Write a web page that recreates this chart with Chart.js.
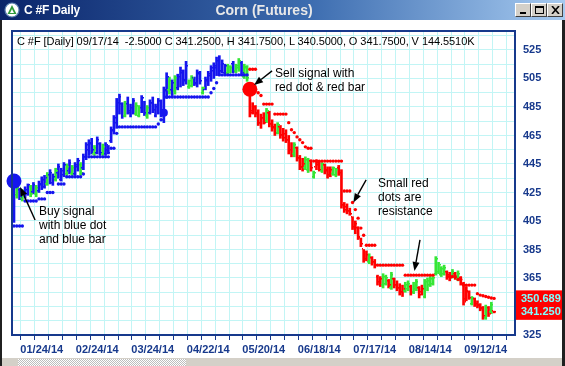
<!DOCTYPE html>
<html><head><meta charset="utf-8">
<script src="https://cdn.jsdelivr.net/npm/chart.js@4.4.1/dist/chart.umd.min.js"></script>
<style>
html,body{margin:0;padding:0;}
body{width:565px;height:366px;overflow:hidden;position:relative;background:#fff;font-family:Arial,"Liberation Sans",sans-serif;}
#titlebar{position:absolute;left:0;top:0;width:565px;height:20px;background:linear-gradient(90deg,#0a246a 0%,#3d6db0 55%,#a6caf0 100%);z-index:3;}
#wtitle{position:absolute;left:24px;top:3px;color:#fff;font:bold 12px Arial,"Liberation Sans",sans-serif;letter-spacing:-0.2px;}
#ctitle{position:absolute;left:0;width:528px;text-align:center;top:2px;color:#e8e8e8;font:bold 14px Arial,"Liberation Sans",sans-serif;}
.btn{position:absolute;top:3px;width:16px;height:14px;background:#d4d0c8;border-top:1px solid #fff;border-left:1px solid #fff;border-right:1px solid #404040;border-bottom:1px solid #404040;box-sizing:border-box;}
#lframe{position:absolute;left:0;top:20px;width:2px;height:346px;background:#202020;z-index:3;}
#rframe{position:absolute;left:562px;top:20px;width:3px;height:346px;background:#202020;z-index:3;}
#scroll{position:absolute;left:2px;top:358px;width:560px;height:8px;background:#d4d0c8;z-index:3;}
#hatch{position:absolute;left:16px;top:1px;width:168px;height:7px;background-image:repeating-conic-gradient(#bdbdbd 0 25%,#ffffff 0 50%);background-size:2px 2px;}
#chart{position:absolute;left:0;top:0;z-index:1;}
.txt{position:absolute;z-index:2;color:#000;white-space:nowrap;}
#info{left:17px;top:35px;font-size:11px;line-height:13px;letter-spacing:-0.07px;}
.note{font-size:12px;line-height:14px;}
</style></head><body>
<div id="titlebar">
  <svg style="position:absolute;left:4px;top:2px" width="16" height="16"><circle cx="8" cy="8" r="7" fill="#fff" stroke="#5a7fb0" stroke-width="1.2"/><polygon points="8,3 12.5,12 3.5,12" fill="#2f9a3a"/><polygon points="8,7 10,11 6,11" fill="#fff"/></svg>
  <div id="wtitle">C #F Daily</div>
  <div id="ctitle">Corn (Futures)</div>
  <div class="btn" style="left:515px"><div style="position:absolute;left:4px;top:8px;width:6px;height:2px;background:#000"></div></div>
  <div class="btn" style="left:531px"><div style="position:absolute;left:3px;top:2px;width:9px;height:8px;border:1px solid #000;border-top-width:2px;box-sizing:border-box"></div></div>
  <div class="btn" style="left:547px"><svg style="position:absolute;left:3px;top:2px" width="9" height="8"><path d="M1 0 L8 8 M8 0 L1 8" stroke="#000" stroke-width="1.6"/></svg></div>
</div>
<div id="lframe"></div><div id="rframe"></div>
<div id="scroll"><div id="hatch"></div></div>
<canvas id="chart" width="565" height="366"></canvas>
<div class="txt" id="info">C #F [Daily] 09/17/14&nbsp; -2.5000 C 341.2500, H 341.7500, L 340.5000, O 341.7500, V 144.5510K</div>
<div class="txt note" style="left:275px;top:66px">Sell signal with<br>red dot &amp; red bar</div>
<div class="txt note" style="left:39px;top:204px">Buy signal<br>with blue dot<br>and blue bar</div>
<div class="txt note" style="left:378px;top:176px">Small red<br>dots are<br>resistance</div>
<script>
// ---------------- DATA ----------------
const xTickBars   = [10, 30, 50, 70, 90, 110, 130, 150, 170];
const xTickLabels = ['01/24/14','02/24/14','03/24/14','04/22/14','05/20/14','06/18/14','07/17/14','08/14/14','09/12/14'];
const yTickLabels = [325, 345, 365, 385, 405, 425, 445, 465, 485, 505, 525];

const opens = [
 407,423,427,421,424,424,429,425,424,426, 430,429,431,437,432,434,439,434,437,438,
 440,438,438,443,444,442,450,455,459,452, 453,459,452,452,455,461,468,474,485,487,
 479,487,481,484,480,479,484,488,479,481, 488,479,485,489,476,496,497,497,496,498,
 504,509,504,499,500,505,502,508,495,497, 503,507,510,512,517,510,509,509,510,515,
 510,512,516,506,512,499,482,485,481,474, 477,475,481,473,471,467,471,465,466,462,
 455,452,456,449,443,442,441,447,436,443, 446,440,444,441,437,438,437,442,438,416,
 415,412,408,401,400,393,385,379,376,379, 376,366,362,360,361,363,358,364,360,358,
 355,356,357,359,355,357,358,355,352,358, 360,361,368,369,367,368,369,367,366,368,
 364,365,360,350,355,347,350,348,346,344, 337,344,341,341.75];
const highs = [
 434,430,428,427,429,431,430,432,430,433, 436,437,439,441,438,442,445,442,446,445,
 448,444,446,449,446,452,460,462,463,458, 464,460,459,460,458,471,479,491,494,488,
 489,492,487,491,488,486,493,489,486,490, 492,487,491,490,499,509,506,504,507,508,
 513,511,517,504,507,506,511,510,499,506, 510,514,516,520,521,518,515,515,514,517,
 515,519,517,515,514,502,488,486,483,480, 481,484,482,476,473,474,472,470,469,465,
 460,460,457,451,449,450,449,448,440,448, 447,446,445,443,443,443,442,444,441,418,
 417,414,408,405,401,393,385,384,382,380, 378,367,366,368,367,364,369,365,363,361,
 360,362,363,360,362,364,359,360,364,365, 366,366,380,376,373,374,370,369,371,369,
 370,366,362,359,356,352,351,349,347,345, 346,345,348,341.75];
const lows = [
 404,421,420,419,421,423,422,424,422,425, 427,428,430,431,430,433,435,433,436,437,
 438,437,437,440,437,441,448,451,452,451, 452,451,451,451,452,460,466,470,480,477,
 478,480,478,480,479,478,481,479,477,480, 481,478,480,478,474,491,494,493,494,497,
 499,500,501,498,499,500,499,501,494,497, 500,503,505,507,508,509,508,508,509,509,
 509,510,508,505,503,478,480,478,472,470, 473,474,471,468,465,466,463,461,460,452,
 450,450,447,441,440,441,439,440,435,441, 440,439,438,435,436,437,436,437,414,411,
 410,409,399,396,392,387,376,377,375,374, 372,360,359,358,360,358,357,358,356,353,
 352,355,356,353,354,356,351,353,351,356, 359,360,367,368,366,367,364,363,365,364,
 363,360,346,349,350,346,345,344,342,336, 336,338,340,340.5];
const closes = [
 432,428,422,425,427,430,424,430,428,431, 434,435,437,439,436,440,443,440,444,443,
 446,442,444,447,439,450,458,460,455,456, 462,453,457,458,453,469,477,488,492,479,
 487,482,485,489,486,484,491,481,484,488, 483,485,489,481,497,506,503,502,505,506,
 510,503,514,503,505,501,509,503,498,504, 508,512,514,518,510,515,514,513,512,510,
 514,517,509,513,505,481,485,480,474,477, 474,482,473,470,467,472,465,463,462,455,
 452,458,449,443,445,448,447,442,439,444, 441,445,440,437,441,442,441,439,416,413,
 412,410,401,403,394,389,378,381,380,376, 374,362,364,366,365,360,367,360,358,355,
 357,360,361,355,360,362,353,357,362,363, 364,365,378,374,371,372,366,365,369,365,
 368,361,348,356,351,351,347,345,343,338, 344,340,346,341.25];
// bar colour class: b = blue (up-trend), g = green, r = red (down-trend)
const barTones = (
 'bgbgbbgbgb'+'bbgbbgbbbg'+'bgbbgbbbbg'+'bbgbbbbbbb'+'gbbbggbbgb'+'bbbbbbgbgb'+'bbbggbbbgb'+'bbbbbbbggb'+'ggbgg'+
 'rrrrr'+'rgrrrgrrrr'+'rgrrrggrgr'+'rgrrrggrrr'+'rrrrrrrrgr'+'rrrggrgrrr'+'rggrggrrgg'+'ggggggrrgr'+'grrrrgrrrr'+'grgr'
).split('');
const _ = null;
// blue trailing-stop (support) dots
const supportStops = [
 401.5,401.5,401.5,401.5,419,419,419,419,419,420.5, 420.5,420.5,425,425,425,_,431,431,431,436,
 436,436,436,436,436,438,_,450,450,450, 450,450,450,450,450,456,456,466.5,471,471,
 471,471,471,471,471,471,471,471,471,471, 471,471,473,476,_,492,492,492,492,492,
 492,492,492,492,492,492,492,492,492,492, 492,495,498,502,507.5,507.5,507.5,507.5,507.5,507.5,
 507.5,507.5,507.5,507.5,507.5];
// red trailing-stop (resistance) dots
const resistanceStops = [
 _,_,_,_,_,_,_,_,_,_, _,_,_,_,_,_,_,_,_,_, _,_,_,_,_,_,_,_,_,_, _,_,_,_,_,_,_,_,_,_,
 _,_,_,_,_,_,_,_,_,_, _,_,_,_,_,_,_,_,_,_, _,_,_,_,_,_,_,_,_,_, _,_,_,_,_,_,_,_,_,_,
 _,_,_,_,_,511.5,511.5,511.5,495,493, 487,487,487,487,480,480,480,480,480,474,
 469,467,464,462,460,457,456,456,447,447, 447,447,447,447,447,447,447,447,447,426,
 426,426,418,413,407,400,395,388,388,388, 388,374,374,374,374,374,374,374,374,374,
 374,367,367,367,367,367,367,367,367,367, 367,367,_,_,_,_,_,366,366,366,
 364,364,360,360,360,360,360,354,353,352.5, 352,351.5,351,350.689];
const buyBars = [0, 54],  buyPrices = [433, 481], buySizes = [7.5, 4];
const sellBars = [85],    sellPrices = [497.4],   sellSizes = [7.5];
// annotation arrows: [fromBar, fromPrice, toBar, toPrice]
const arrows = [[7.6,405.7,2.2,428.9],[93,510.3,86.5,500.4],[126.9,433.8,122.3,418],[146.3,391.7,144.3,369.9]];

// ---------------- CHART ----------------
const NAVY = '#17398c', GRID = '#c2f5f5';
const toneColor = {b:'#1515ee', g:'#35e635', r:'#ff0000'};
const BLUE = '#1515ee', RED = '#ff0000';
const xMin = -0.72, xMax = 180.54;
const yMin = 325, yMax = 538.3;
const yGrid = []; for (let v = yMin; v <= yMax; v += 10) yGrid.push(v);
const xGrid = []; for (let b = 0; b <= xMax; b += 5) xGrid.push(b);

const ohlcTicks = {
  id:'ohlcTicks',
  afterDatasetDraw(chart, args){
    if (args.index !== 0) return;
    const {ctx, chartArea:a, scales:{x, y}} = chart;
    ctx.save(); ctx.beginPath(); ctx.rect(a.left, a.top, a.width, a.height); ctx.clip();
    opens.forEach((o, i) => {
      const px = Math.round(x.getPixelForValue(i));
      ctx.fillStyle = toneColor[barTones[i]];
      ctx.fillRect(px - 2, Math.round(y.getPixelForValue(o)) - 1, 1, 1.5);
      ctx.fillRect(px + 1, Math.round(y.getPixelForValue(closes[i])) - 1, 1, 1.5);
    });
    ctx.restore();
  }
};
const frame = {
  id:'frame',
  afterDraw(chart){
    const {ctx, chartArea:a, scales:{x, y}} = chart;
    ctx.save();
    ctx.strokeStyle = NAVY; ctx.lineWidth = 2;
    ctx.strokeRect(a.left, a.top, a.right - a.left, a.bottom - a.top);
    // arrows
    ctx.strokeStyle = '#000'; ctx.fillStyle = '#000'; ctx.lineWidth = 1.4;
    arrows.forEach(([b0, p0, b1, p1]) => {
      const x0 = x.getPixelForValue(b0), y0 = y.getPixelForValue(p0);
      const x1 = x.getPixelForValue(b1), y1 = y.getPixelForValue(p1);
      const ang = Math.atan2(y1 - y0, x1 - x0), L = 9, W = 3.5;
      const bx = x1 - L * Math.cos(ang), by = y1 - L * Math.sin(ang);
      ctx.beginPath(); ctx.moveTo(x0, y0); ctx.lineTo(bx, by); ctx.stroke();
      ctx.beginPath(); ctx.moveTo(x1, y1);
      ctx.lineTo(bx + W * Math.sin(ang), by - W * Math.cos(ang));
      ctx.lineTo(bx - W * Math.sin(ang), by + W * Math.cos(ang));
      ctx.closePath(); ctx.fill();
    });
    // last-value boxes on the price axis
    const vals = [resistanceStops[resistanceStops.length - 1], closes[closes.length - 1]];
    ctx.font = 'bold 11px Arial, "Liberation Sans", sans-serif';
    ctx.textBaseline = 'middle'; ctx.textAlign = 'left';
    vals.forEach(v => {
      const py = y.getPixelForValue(v);
      ctx.fillStyle = RED; ctx.fillRect(a.right + 1, py - 8, 565 - a.right, 16);
    });
    vals.forEach(v => {
      const py = y.getPixelForValue(v);
      ctx.fillStyle = '#7fffff'; ctx.fillText(v.toFixed(3), a.right + 6, py + 0.5);
    });
    ctx.restore();
  }
};

new Chart(document.getElementById('chart'), {
  type:'bar',
  data:{ datasets:[
    { type:'bar', data: highs.map((h, i) => ({x:i, y:[lows[i], h]})),
      backgroundColor: barTones.map(t => toneColor[t]), barThickness:2, grouped:false, order:4 },
    { type:'line', data: supportStops.map((v, i) => ({x:i, y:v})), showLine:false,
      pointRadius:1.7, pointBorderWidth:0, pointBackgroundColor:BLUE, order:3 },
    { type:'line', data: resistanceStops.map((v, i) => ({x:i, y:v})), showLine:false,
      pointRadius:1.7, pointBorderWidth:0, pointBackgroundColor:RED, order:3 },
    { type:'line', data: buyBars.map((b, k) => ({x:b, y:buyPrices[k]})), showLine:false,
      pointRadius:buySizes, pointBorderWidth:0, pointBackgroundColor:BLUE, order:1, clip:false },
    { type:'line', data: sellBars.map((b, k) => ({x:b, y:sellPrices[k]})), showLine:false,
      pointRadius:sellSizes, pointBorderWidth:0, pointBackgroundColor:RED, order:1, clip:false }
  ]},
  options:{
    responsive:false, animation:false, devicePixelRatio:1, events:[],
    layout:{ padding:{ left:12, top:31, right:0, bottom:0 } },
    plugins:{ legend:{display:false}, tooltip:{enabled:false}, title:{display:false} },
    scales:{
      x:{ type:'linear', min:xMin, max:xMax, offset:false,
        afterBuildTicks: s => { s.ticks = xGrid.map(v => ({value:v})); },
        afterFit: s => { s.height = 31; },
        ticks:{ autoSkip:false, maxRotation:0, padding:3, color:NAVY,
          font:{ family:'Arial, "Liberation Sans", sans-serif', size:11, weight:'bold' },
          callback: v => { const k = xTickBars.indexOf(v); return k >= 0 ? xTickLabels[k] : ''; } },
        grid:{ color:GRID, lineWidth:1, drawTicks:true, tickLength:5, tickColor:NAVY, tickWidth:1 },
        border:{ display:false } },
      y:{ type:'linear', position:'right', min:yMin, max:yMax,
        afterBuildTicks: s => { s.ticks = yGrid.map(v => ({value:v})); },
        afterFit: s => { s.width = 50; },
        ticks:{ autoSkip:false, padding:8, color:NAVY,
          font:{ family:'Arial, "Liberation Sans", sans-serif', size:11, weight:'bold' },
          callback: v => yTickLabels.includes(v) ? String(v) : '' },
        grid:{ color:GRID, lineWidth:1, drawTicks:false },
        border:{ display:false } }
    }
  },
  plugins:[ohlcTicks, frame]
});
</script>
</body></html>
